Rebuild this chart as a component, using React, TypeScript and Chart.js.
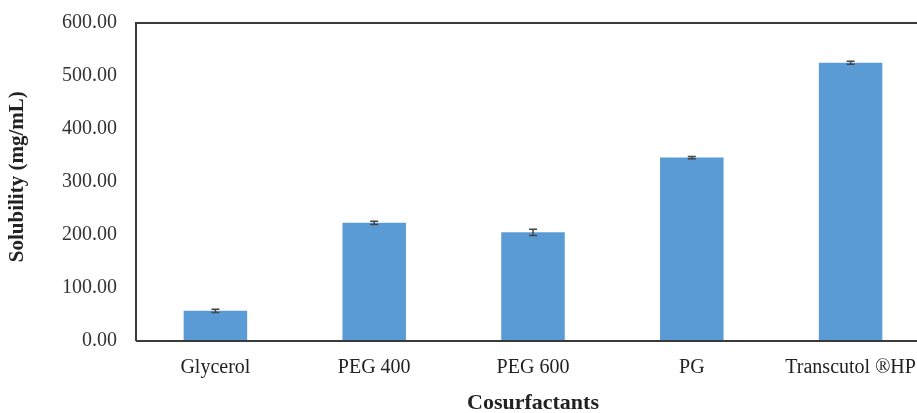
import React, { useEffect, useRef } from "react";
import { Chart, registerables } from "chart.js";

Chart.register(...registerables);

const categories = ["Glycerol", "PEG 400", "PEG 600", "PG", "Transcutol \u00AEHP"];
const solubility = [57, 223, 205, 346, 525];
const errors = [3, 3, 6, 2, 3];
const yTicks = [0, 100, 200, 300, 400, 500, 600];

const FONT = "'Liberation Serif', 'Times New Roman', serif";

const boxPlugin = {
  id: "boxPlugin",
  afterDatasetsDraw(chart: any) {
    const { ctx, chartArea } = chart;
    ctx.save();
    ctx.strokeStyle = "#3a3a3a";
    ctx.lineWidth = 2;
    ctx.beginPath();
    ctx.moveTo(chartArea.left, chartArea.bottom);
    ctx.lineTo(chartArea.left, chartArea.top);
    ctx.lineTo(chartArea.right, chartArea.top);
    ctx.stroke();
    ctx.beginPath();
    ctx.moveTo(chartArea.left, chartArea.bottom);
    ctx.lineTo(chartArea.right, chartArea.bottom);
    ctx.stroke();
    const xs = chart.scales.x;
    const ys = chart.scales.y;
    ctx.strokeStyle = "#444";
    ctx.lineWidth = 1.5;
    solubility.forEach((v, i) => {
      const x = xs.getPixelForValue(i);
      const y1 = ys.getPixelForValue(v + errors[i]);
      const y2 = ys.getPixelForValue(v - errors[i]);
      ctx.beginPath();
      ctx.moveTo(x, y1);
      ctx.lineTo(x, y2);
      ctx.moveTo(x - 4, y1);
      ctx.lineTo(x + 4, y1);
      ctx.moveTo(x - 4, y2);
      ctx.lineTo(x + 4, y2);
      ctx.stroke();
    });
    ctx.restore();
  },
};

export default function App() {
  const ref = useRef<HTMLCanvasElement>(null);
  useEffect(() => {
    if (!ref.current) return;
    const chart = new Chart(ref.current, {
      type: "bar",
      data: {
        labels: categories,
        datasets: [
          {
            data: solubility,
            backgroundColor: "#5B9BD5",
            categoryPercentage: 1,
            barPercentage: 0.4,
          },
        ],
      },
      plugins: [boxPlugin],
      options: {
        animation: false,
        responsive: false,
        maintainAspectRatio: false,
        layout: { padding: { top: 23, right: 0, left: 0, bottom: 0 } },
        plugins: { legend: { display: false }, tooltip: { enabled: false } },
        scales: {
          x: {
            grid: { display: false, drawTicks: false },
            border: { display: false },
            ticks: { color: "#222", font: { family: FONT, size: 20 }, padding: 15, maxRotation: 0 },
            title: {
              display: true,
              text: "Cosurfactants",
              color: "#222",
              font: { family: FONT, size: 22, weight: "bold" },
              padding: { top: 4, bottom: -4 },
            },
            afterFit(scale: any) {
              scale.height = 72;
              scale.paddingLeft = 0;
              scale.paddingRight = 0;
            },
          },
          y: {
            min: 0,
            max: 600,
            afterBuildTicks(scale: any) {
              scale.ticks = yTicks.map((v) => ({ value: v }));
            },
            grid: { display: false, drawTicks: false },
            border: { display: false },
            ticks: {
              color: "#333",
              font: { family: FONT, size: 20 },
              padding: 19,
              callback: (v: any) => Number(v).toFixed(2),
            },
            title: {
              display: true,
              text: "  Solubility (mg/mL)",
              color: "#222",
              font: { family: FONT, size: 21, weight: "bold" },
              padding: { top: 5, bottom: 0 },
            },
            afterFit(scale: any) {
              scale.width = 136;
              scale.paddingTop = 0;
              scale.paddingBottom = 0;
            },
          },
        },
      },
    });
    return () => chart.destroy();
  }, []);
  return (
    <div style={{ position: "fixed", left: 0, top: 0, width: 917, height: 413, overflow: "hidden", background: "#fff" }}>
      <canvas ref={ref} width={930} height={413} style={{ display: "block" }} />
    </div>
  );
}
